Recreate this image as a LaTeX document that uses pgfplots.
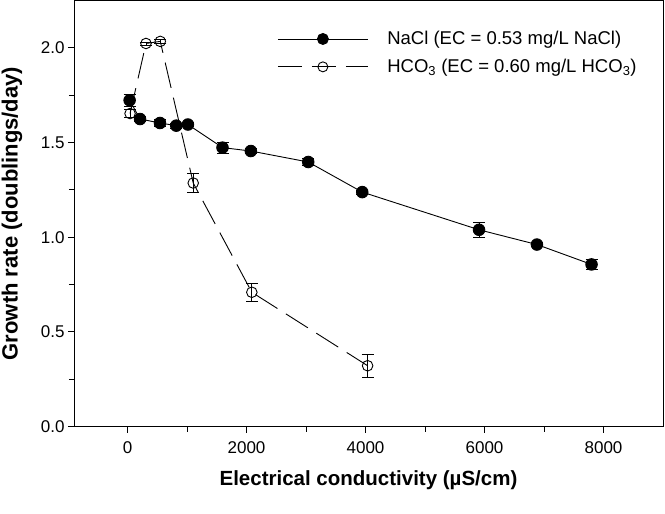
\documentclass[border=0pt]{standalone}
\usepackage{fontspec}
\setmainfont{Liberation Sans}
\usepackage{pgfplots}
\pgfplotsset{compat=1.18}
\usepackage{pgfplotstable}

\pgfplotstableread{
x y e
35 1.723 0.030
210 1.624 0.012
545 1.603 0.020
819 1.589 0.012
1015 1.595 0.012
1596 1.473 0.030
2072 1.455 0.012
3037 1.397 0.020
3945 1.238 0.010
5908 1.039 0.040
6881 0.961 0.010
7799 0.856 0.028
}\nacl

\pgfplotstableread{
x y e
42 1.653 0.020
310 2.023 0.008
550 2.034 0.008
1104 1.286 0.051
2089 0.709 0.046
4035 0.321 0.062
}\hco

\begin{document}
\begin{tikzpicture}
\begin{axis}[
  scale only axis,
  width=589bp, height=426bp,
  xmin=-900, xmax=9000,
  ymin=0, ymax=2.25,
  xtick={0,2000,4000,6000,8000},
  ytick={0,0.5,1.0,1.5,2.0},
  minor x tick num=1,
  minor y tick num=1,
  xtick pos=left, ytick pos=left,
  tick align=outside,
  major tick length=6bp,
  minor tick length=5bp,
  every tick/.style={black, line width=0.8bp},
  axis line style={line width=0.9bp},
  /pgf/number format/assume math mode=true,
  /pgf/number format/1000 sep={},
  yticklabel style={/pgf/number format/fixed, /pgf/number format/fixed zerofill, /pgf/number format/precision=1},
  tick label style={font=\fontsize{17bp}{19bp}\selectfont},
  xticklabel style={yshift=-6bp},
  xlabel={Electrical conductivity (µS/cm)},
  ylabel={Growth rate (doublings/day)},
  xlabel style={font=\fontsize{20.5bp}{23bp}\selectfont\bfseries, at={(axis description cs:0.5,-0.127)}, anchor=center},
  ylabel style={font=\fontsize{22bp}{24bp}\selectfont\bfseries, at={(axis description cs:-0.1053,0.5)}, anchor=center},
  legend cell align=left,
  legend style={draw=none, fill=none, at={(axis description cs:0.34,0.937)}, anchor=north west,
    font=\fontsize{18.5bp}{21bp}\selectfont, row sep=9bp,
    /tikz/every odd column/.append style={column sep=17bp}},
  legend image code/.code={\draw[mark repeat=2,mark phase=2,#1] plot coordinates {(0bp,0bp) (45bp,0bp) (90bp,0bp)};},
]
\addlegendimage{black, solid, line width=0.9bp, mark=*, mark size=5.5bp, mark options={solid, fill=black}}
\addlegendentry{NaCl (EC = 0.53 mg/L NaCl)}
\addlegendimage{black, dash pattern=on 24bp off 10bp, line width=0.9bp, mark=o, mark size=5bp, mark options={solid, fill=white}}
\addlegendentry{HCO\textsubscript{3} (EC = 0.60 mg/L HCO\textsubscript{3})}

\addplot[forget plot, black, dash pattern=on 26bp off 10bp, line width=0.9bp, mark=o, mark size=5.3bp,
  mark options={solid, fill=white},
  error bars/.cd, y dir=both, y explicit,
  error bar style={solid, line width=0.8bp},
  error mark options={rotate=90, mark size=6bp, line width=0.8bp, solid}]
  table[x=x, y=y, y error=e] {\hco};

\addplot[forget plot, black, solid, line width=0.9bp, mark=*, mark size=5.8bp,
  mark options={solid, fill=black},
  error bars/.cd, y dir=both, y explicit,
  error bar style={solid, line width=0.8bp},
  error mark options={rotate=90, mark size=6bp, line width=0.8bp, solid}]
  table[x=x, y=y, y error=e] {\nacl};
\end{axis}
\pgfresetboundingbox
\path ([shift={(-74bp,-87bp)}]current axis.south west) rectangle ([shift={(2bp,0.5bp)}]current axis.north east);
\end{tikzpicture}
\end{document}
